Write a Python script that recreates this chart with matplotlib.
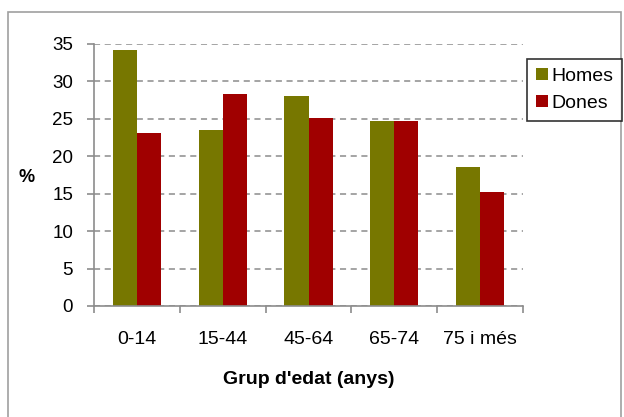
import matplotlib
matplotlib.use("Agg")
import matplotlib.pyplot as plt
from matplotlib.patches import Rectangle
import numpy as np

categories = ["0-14", "15-44", "45-64", "65-74", "75 i més"]
homes = [34.2, 23.5, 28.1, 24.7, 18.6]
dones = [23.1, 28.3, 25.1, 24.7, 15.2]
series_names = ["Homes", "Dones"]
colors = ["#777700", "#A00000"]

plt.rcParams['font.family'] = ['Liberation Sans', 'DejaVu Sans']

W, H = 624, 417
fig = plt.figure(figsize=(W / 100, H / 100), dpi=100)
fig.patch.set_facecolor("white")

# outer border
fig.patches.append(Rectangle((8 / W, -0.02), (621 - 8) / W, 1 - 12 / H + 0.02,
                             transform=fig.transFigure, fill=False,
                             edgecolor="#a0a0a0", linewidth=1.2))

ax = fig.add_axes([94 / W, 1 - 306 / H, (523 - 94) / W, (306 - 44) / H])
x = np.arange(len(categories))
w = 0.28
b1 = ax.bar(x - w / 2, homes, w, color=colors[0], label=series_names[0])
b2 = ax.bar(x + w / 2, dones, w, color=colors[1], label=series_names[1])

ax.set_xlim(-0.5, len(categories) - 0.5)
ax.set_ylim(0, 35)
ax.set_yticks(np.arange(0, 36, 5))
ax.yaxis.grid(True, linestyle=(0, (4, 3)), color="#8c8c8c", linewidth=1.1)
ax.set_axisbelow(True)
for s in ["top", "right"]:
    ax.spines[s].set_visible(False)
for s in ["left", "bottom"]:
    ax.spines[s].set_color("#8c8c8c")
    ax.spines[s].set_linewidth(1.2)

ax.set_xticks(x)
ax.set_xticklabels(categories, fontsize=14)
ax.set_xticks(np.arange(-0.5, len(categories), 1), minor=True)
ax.tick_params(axis="x", which="major", length=0, pad=18)
ax.tick_params(axis="x", which="minor", length=5, color="#8c8c8c", width=1.2)
ax.tick_params(axis="y", length=5, color="#8c8c8c", width=1.2, labelsize=13.5, pad=10)

fig.text(309 / W, 1 - 380 / H, "Grup d'edat (anys)", ha="center", va="center",
         fontsize=14, fontweight="bold")
fig.text(27 / W, 1 - 178 / H, "%", ha="center", va="center",
         fontsize=13, fontweight="bold")

leg = fig.legend(handles=[b1, b2], labels=series_names, loc="upper left",
                 bbox_to_anchor=(527 / W, 1 - 59 / H), fontsize=14,
                 frameon=True, fancybox=False, handlelength=0.62, handleheight=0.62,
                 handletextpad=0.2, borderpad=0.45, labelspacing=0.5, borderaxespad=0)
leg.get_frame().set_edgecolor("black")
leg.get_frame().set_linewidth(1.2)

fig.savefig("out.png", dpi=100)
